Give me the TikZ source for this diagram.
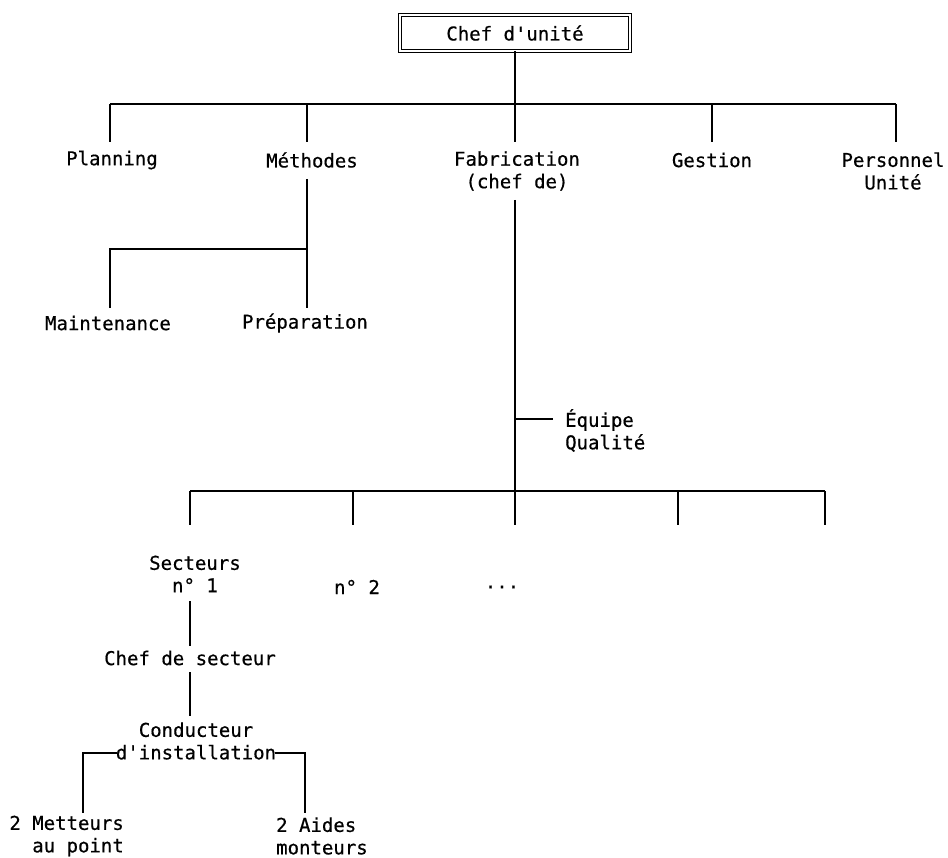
\documentclass[tikz,border=0pt]{standalone}
\usepackage{fontspec}
\newfontfamily\labelfont[FakeBold=0.5]{DejaVu Sans Mono}
\begin{document}
\begin{tikzpicture}[x=1pt,y=-1pt,
  every node/.style={font=\labelfont\fontsize{19}{22.5}\selectfont, inner sep=0pt},
  lbl/.style={align=center},
  topbox/.style={draw, double, double distance=1.8pt, line width=1pt,
    minimum width=230pt, minimum height=36pt},
  link/.style={line width=1.2pt}]
\useasboundingbox (0,0) rectangle (948,858);

% head of the unit
\node[topbox] (chef) at (515,33) {Chef d'unité};

% first level
\node[lbl] (plan) at (112,160) {Planning};
\node[lbl] (meth) at (312,160) {Méthodes};
\node[lbl] (fab)  at (517,171) {Fabrication\\(chef de)};
\node[lbl] (gest) at (712,160) {Gestion};
\node[lbl] (pers) at (893,171) {Personnel\\Unité};

\coordinate (b1)  at (515,104);
\coordinate (b1l) at (110,104);
\coordinate (b1m) at (307,104);
\coordinate (b1g) at (712,104);
\coordinate (b1r) at (896,104);
\coordinate (d1a) at (110,142);
\coordinate (d1b) at (307,142);
\coordinate (d1c) at (515,142);
\coordinate (d1d) at (712,142);
\coordinate (d1e) at (896,142);

\draw[link] (chef.south) -- (b1);
\draw[link] (b1l) -- (b1r);
\draw[link] (b1l) -- (d1a);
\draw[link] (b1m) -- (d1b);
\draw[link] (b1)  -- (d1c);
\draw[link] (b1g) -- (d1d);
\draw[link] (b1r) -- (d1e);

% methods branch
\node[lbl] (maint) at (108,323) {Maintenance};
\node[lbl] (prep)  at (305,323) {Préparation};
\coordinate (m0) at (307,179);
\coordinate (mj) at (307,249);
\coordinate (ml) at (110,249);
\coordinate (ma) at (110,308);
\coordinate (mp) at (307,308);
\draw[link] (m0) -- (mp);
\draw[link] (mj) -- (ml) -- (ma);

% manufacturing branch
\node[align=left, anchor=west] (qual) at (565,430.5) {Équipe\\Qualité};
\coordinate (f0) at (515,200);
\coordinate (fq) at (515,419);
\coordinate (fqe) at (553,419);
\coordinate (b2) at (515,491);
\draw[link] (f0) -- (b2);
\draw[link] (fq) -- (fqe);

\coordinate (b2l) at (190,491);
\coordinate (b2b) at (353,491);
\coordinate (b2d) at (678,491);
\coordinate (b2r) at (825,491);
\coordinate (d2a) at (190,525);
\coordinate (d2b) at (353,525);
\coordinate (d2c) at (515,525);
\coordinate (d2d) at (678,525);
\coordinate (d2e) at (825,525);
\draw[link] (b2l) -- (b2r);
\draw[link] (b2l) -- (d2a);
\draw[link] (b2b) -- (d2b);
\draw[link] (b2)  -- (d2c);
\draw[link] (b2d) -- (d2d);
\draw[link] (b2r) -- (d2e);

% sectors
\node[lbl] (s1) at (195,574) {Secteurs\\n° 1};
\node[lbl] (s2) at (357,587) {n° 2};
\node[lbl] (s3) at (502,587) {...};

\node[lbl] (cs) at (190,658) {Chef de secteur};
\coordinate (s1b) at (190,601);
\coordinate (cst) at (190,646);
\coordinate (csb) at (190,672);
\coordinate (cit) at (190,716);
\draw[link] (s1b) -- (cst);
\draw[link] (csb) -- (cit);

\node[lbl] (ci) at (196,741) {Conducteur\\d'installation};
\coordinate (cil) at (117,753);
\coordinate (cir) at (275,753);
\coordinate (hl) at (83,753);
\coordinate (hr) at (305,753);
\coordinate (hla) at (83,813);
\coordinate (hra) at (305,813);
\draw[link] (cil) -- (hl) -- (hla);
\draw[link] (cir) -- (hr) -- (hra);

\node[align=right, anchor=east] (met) at (124,836) {2 Metteurs\\au point};
\node[align=left, anchor=west] (aid) at (276,836) {2 Aides\\monteurs};
\end{tikzpicture}
\end{document}
